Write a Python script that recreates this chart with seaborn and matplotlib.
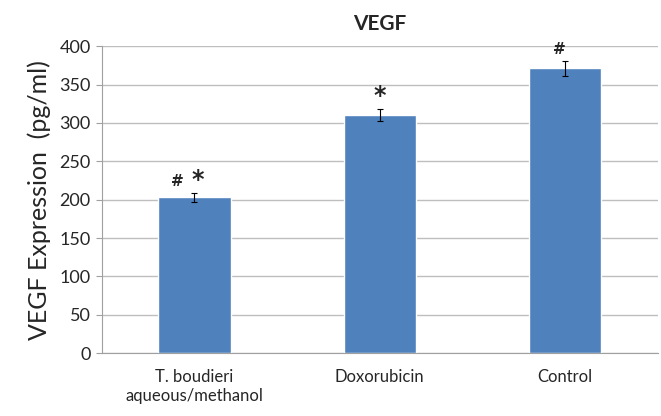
import pandas as pd
import matplotlib.pyplot as plt
import seaborn as sns

# Values
groups = ["T. boudieri\naqueous/methanol", "Doxorubicin", "Control"]
vegf = [203, 310, 371]
sem = [6, 8, 10]
hashes = [True, False, True]
stars = [True, True, False]

df = pd.DataFrame({"Group": groups, "VEGF": vegf, "SEM": sem})

sns.set_style("white")
plt.rcParams["font.family"] = ["Lato", "DejaVu Sans"]

fig = plt.figure(figsize=(6.61, 4.16), dpi=100)
ax = fig.add_axes([0.154, 0.151, 0.841, 0.738])

sns.barplot(x="Group", y="VEGF", data=df, color="#4F81BD", width=0.39,
            errorbar=None, saturation=1, ax=ax, zorder=2)
ax.errorbar(range(len(groups)), df["VEGF"], yerr=df["SEM"], fmt="none",
            ecolor="black", elinewidth=0.8, capsize=2.5, capthick=0.8, zorder=3)

# significance marks above the bars
for i, (v, e, h, s) in enumerate(zip(vegf, sem, hashes, stars)):
    y = v + e + 5
    if h and s:
        ax.text(i - 0.09, y, "#", ha="center", va="bottom", fontsize=11,
                fontweight="bold", family="DejaVu Sans")
        ax.text(i + 0.02, y - 4, "*", ha="center", va="bottom", fontsize=17,
                fontweight="bold", family="DejaVu Sans")
    elif s:
        ax.text(i, y - 4, "*", ha="center", va="bottom", fontsize=17,
                fontweight="bold", family="DejaVu Sans")
    elif h:
        ax.text(i - 0.03, y, "#", ha="center", va="bottom", fontsize=11,
                fontweight="bold", family="DejaVu Sans")

ax.set_ylim(0, 400)
ax.set_yticks(range(0, 401, 50))
ax.set_xlim(-0.5, 2.5)
ax.yaxis.grid(True, color="#BEBEBE", linewidth=1, zorder=0)
ax.set_axisbelow(True)
for sp in ["top", "right"]:
    ax.spines[sp].set_visible(False)
for sp in ["left", "bottom"]:
    ax.spines[sp].set_color("#A0A0A0")
ax.tick_params(axis="y", left=True, length=4, color="#A0A0A0", labelsize=13, pad=4)
ax.tick_params(axis="x", bottom=False, labelsize=12, pad=8)

ax.set_title("VEGF", fontsize=15, fontweight="bold", pad=12)
ax.set_xlabel("")
ax.set_ylabel("VEGF Expression  (pg/ml)", fontsize=18, labelpad=6)

plt.savefig("out.png", dpi=100)
